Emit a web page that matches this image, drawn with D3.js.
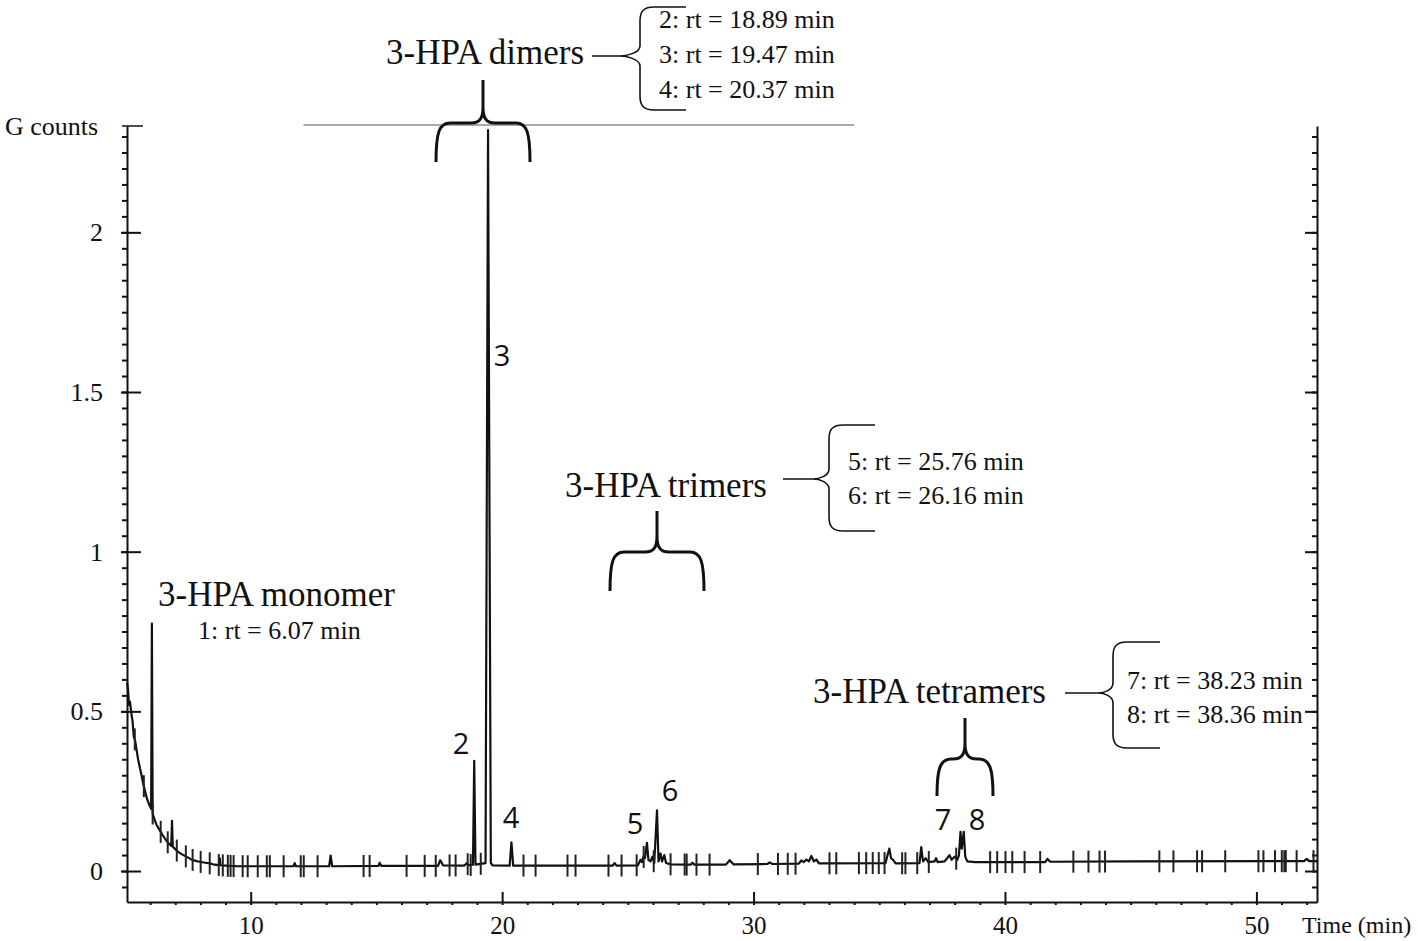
<!DOCTYPE html>
<html>
<head>
<meta charset="utf-8">
<title>3-HPA chromatogram</title>
<script src="https://cdn.jsdelivr.net/npm/d3@7"></script>
<style>
    body { margin: 0; background: #fff; }
    text { fill: #111; }
    .serif { font-family: "Liberation Serif", "Times New Roman", serif; }
    .sans { font-family: "Open Sans", "Noto Sans", sans-serif; }
    .axis path, .axis line { stroke: #111; stroke-width: 2; }
</style>
</head>
<body>
<svg id="chart" width="1418" height="941"></svg>
<script>
    // axis limits (min, G counts)
    var xMin = 5.08, xMax = 52.41;
    var yMin = -0.097, yMax = 2.333;
    var xTicks = [10, 20, 30, 40, 50];
    var yTicks = [0, 0.5, 1, 1.5, 2];

    // chromatogram trace: [retention time, signal]
    var trace = [
        [5.08, 0.59], [5.12, 0.57], [5.16, 0.52], [5.2, 0.53], [5.26, 0.49], [5.3, 0.47],
        [5.35, 0.42], [5.4, 0.41], [5.46, 0.38], [5.52, 0.35], [5.6, 0.32], [5.66, 0.30],
        [5.72, 0.275], [5.8, 0.25], [5.88, 0.225], [5.98, 0.205], [6.04, 0.195], [6.07, 0.775],
        [6.10, 0.18], [6.18, 0.16], [6.25, 0.145], [6.38, 0.128], [6.5, 0.112], [6.62, 0.098],
        [6.75, 0.085], [6.84, 0.079], [6.87, 0.157], [6.90, 0.076], [6.98, 0.07], [7.1, 0.061],
        [7.25, 0.053], [7.44, 0.045], [7.6, 0.038], [7.71, 0.034], [7.85, 0.031], [7.97, 0.029],
        [8.2, 0.026], [8.37, 0.024], [8.5, 0.021], [8.64, 0.019], [8.74, 0.019], [8.77, 0.04],
        [8.80, 0.018], [9.0, 0.017], [9.17, 0.016], [9.5, 0.015], [11.7, 0.015], [11.75, 0.025],
        [11.8, 0.015], [13.12, 0.015], [13.18, 0.048], [13.24, 0.015], [15.08, 0.016], [15.13, 0.026],
        [15.2, 0.016], [17.45, 0.016], [17.54, 0.034], [17.65, 0.018], [18.5, 0.017], [18.6, 0.025],
        [18.66, 0.018], [18.84, 0.02], [18.89, 0.345], [18.94, 0.02], [19.34, 0.025], [19.44, 2.32],
        [19.55, 0.025], [19.62, 0.018], [20.3, 0.017], [20.37, 0.09], [20.44, 0.017], [24.4, 0.017],
        [24.47, 0.025], [24.55, 0.017], [25.4, 0.018], [25.5, 0.035], [25.56, 0.028], [25.62, 0.045],
        [25.68, 0.04], [25.76, 0.088], [25.82, 0.035], [25.9, 0.03], [25.98, 0.045], [26.05, 0.025],
        [26.16, 0.19], [26.22, 0.03], [26.3, 0.055], [26.36, 0.03], [26.45, 0.05], [26.52, 0.025],
        [26.7, 0.021], [27.5, 0.02], [27.57, 0.026], [27.65, 0.02], [28.9, 0.02], [29.05, 0.034],
        [29.2, 0.021], [30.55, 0.022], [30.64, 0.027], [30.75, 0.022], [31.8, 0.023], [31.9, 0.033],
        [32.0, 0.028], [32.1, 0.036], [32.2, 0.03], [32.3, 0.047], [32.4, 0.03], [32.5, 0.036],
        [32.6, 0.024], [35.25, 0.025], [35.33, 0.05], [35.4, 0.07], [35.47, 0.04], [35.55, 0.035],
        [35.65, 0.024], [36.6, 0.025], [36.67, 0.075], [36.74, 0.03], [36.85, 0.04], [36.95, 0.028],
        [37.2, 0.03], [37.26, 0.04], [37.32, 0.028], [37.6, 0.03], [37.7, 0.04], [37.79, 0.05],
        [37.88, 0.035], [37.99, 0.045], [38.1, 0.035], [38.17, 0.05], [38.23, 0.123], [38.28, 0.07],
        [38.36, 0.123], [38.42, 0.045], [38.5, 0.03], [38.8, 0.028], [41.6, 0.028], [41.69, 0.038],
        [41.8, 0.029], [45, 0.03], [51.9, 0.031], [52.0, 0.038], [52.1, 0.031], [52.41, 0.031]
    ];

    // integration event marks (min)
    var events = [
        5.39, 5.75, 6.10, 6.42, 6.70, 7.06, 7.42, 7.69, 8.01, 8.37, 8.73, 8.89, 9.09, 9.20, 9.32,
        9.68, 9.88, 10.28, 10.64, 10.76, 11.31, 11.99, 12.11, 12.66, 14.49, 14.73, 16.20, 16.92,
        17.36, 17.91, 18.15, 18.63, 18.75, 19.15, 20.85, 21.33, 22.60, 22.92, 24.23, 24.75, 25.35,
        25.63, 26.03, 26.70, 27.26, 27.34, 27.73, 28.25, 30.17, 30.97, 31.36, 31.67, 33.02, 33.29,
        34.19, 34.48, 34.74, 34.98, 35.21, 35.91, 36.04, 36.51, 36.97, 38.06, 39.41, 39.69, 40.02,
        40.29, 40.78, 41.40, 42.72, 43.32, 43.76, 43.98, 46.14, 46.70, 47.64, 47.84, 48.76, 50.08,
        50.28, 50.74, 51.01, 51.11, 51.17, 51.60, 52.27
    ];

    // peak numbers and retention times
    var peakIds = ['1', '2', '3', '4', '5', '6', '7', '8'];
    var peakRt = [6.07, 18.89, 19.47, 20.37, 25.76, 26.16, 38.23, 38.36];

    var svg = d3.select('#chart');

    var x = d3.scaleLinear().domain([xMin, xMax]).range([127, 1317]);
    var y = d3.scaleLinear().domain([yMin, yMax]).range([902, 126]);

    // ---- axes ----
    // bottom: minor every minute, major every 10
    svg.append('g').attr('class', 'axis').attr('transform', 'translate(0,902)')
        .call(d3.axisBottom(x).tickValues(d3.range(6, 53)).tickSize(3).tickSizeOuter(0).tickFormat(''));
    svg.append('g').attr('class', 'axis').attr('transform', 'translate(0,902)')
        .call(d3.axisTop(x).tickValues(xTicks).tickSize(10).tickFormat(''))
        .call(function (g) { g.select('.domain').remove(); });
    svg.append('g').attr('transform', 'translate(0,902)')
        .call(d3.axisBottom(x).tickValues(xTicks).tickSize(0).tickPadding(14).tickFormat(d3.format('d')))
        .call(function (g) {
            g.select('.domain').remove();
            g.selectAll('text').attr('class', 'serif').style('font-size', '25px').attr('fill', '#111');
        });

    var minorY = d3.range(-0.05, 2.34, 0.05);

    // left axis
    svg.append('g').attr('class', 'axis').attr('transform', 'translate(' + x(xMin) + ',0)')
        .call(d3.axisLeft(y).tickValues(minorY).tickSize(5).tickSizeOuter(0).tickFormat(''));
    svg.append('g').attr('class', 'axis').attr('transform', 'translate(' + x(xMin) + ',0)')
        .call(d3.axisRight(y).tickValues(yTicks).tickSize(14).tickFormat(''))
        .call(function (g) { g.select('.domain').remove(); });
    svg.append('g').attr('class', 'axis').attr('transform', 'translate(' + x(xMin) + ',0)')
        .call(d3.axisLeft(y).tickValues(yTicks).tickSize(6).tickFormat(''))
        .call(function (g) { g.select('.domain').remove(); });
    svg.append('g').attr('transform', 'translate(' + x(xMin) + ',0)')
        .call(d3.axisLeft(y).tickValues(yTicks).tickSize(0).tickPadding(24).tickFormat(d3.format('')))
        .call(function (g) {
            g.select('.domain').remove();
            g.selectAll('text').attr('class', 'serif').style('font-size', '26px').attr('fill', '#111');
        });
    // short cap at the top of the left axis
    svg.append('line')
        .attr('x1', x(xMin) - 5).attr('x2', x(xMin) + 16)
        .attr('y1', y(yMax)).attr('y2', y(yMax))
        .attr('stroke', '#111').attr('stroke-width', 1.5);

    // right axis
    svg.append('g').attr('class', 'axis').attr('transform', 'translate(' + x(xMax) + ',0)')
        .call(d3.axisLeft(y).tickValues(minorY).tickSize(5).tickSizeOuter(0).tickFormat(''));
    svg.append('g').attr('class', 'axis').attr('transform', 'translate(' + x(xMax) + ',0)')
        .call(d3.axisLeft(y).tickValues(yTicks).tickSize(12).tickFormat(''))
        .call(function (g) { g.select('.domain').remove(); });

    // faint top frame line of the scan
    svg.append('line')
        .attr('x1', x(12.1)).attr('x2', x(34.0))
        .attr('y1', y(yMax) - 1).attr('y2', y(yMax) - 1)
        .attr('stroke', '#555').attr('stroke-width', 1.2);

    svg.append('text').attr('class', 'serif')
        .attr('x', 5).attr('y', 135)
        .style('font-size', '26px')
        .text('G counts');

    svg.append('text').attr('class', 'serif')
        .attr('x', 1302).attr('y', 933)
        .style('font-size', '24px')
        .text('Time (min)');

    // ---- trace ----
    var line = d3.line()
        .x(function (d) { return x(d[0]); })
        .y(function (d) { return y(d[1]); });

    svg.append('path')
        .datum(trace)
        .attr('d', line)
        .attr('fill', 'none')
        .attr('stroke', '#111')
        .attr('stroke-width', 2.2)
        .attr('stroke-linejoin', 'round');

    // event marks sit on the trace
    var bisect = d3.bisector(function (d) { return d[0]; }).left;
    function traceAt(t) {
        var i = bisect(trace, t);
        if (i <= 0) return trace[0][1];
        if (i >= trace.length) return trace[trace.length - 1][1];
        var a = trace[i - 1], b = trace[i];
        return a[1] + (b[1] - a[1]) * (t - a[0]) / (b[0] - a[0]);
    }

    svg.append('g').selectAll('line')
        .data(events)
        .enter().append('line')
        .attr('x1', function (d) { return x(d); })
        .attr('x2', function (d) { return x(d); })
        .attr('y1', function (d) { return y(traceAt(d)) - 11; })
        .attr('y2', function (d) { return y(traceAt(d)) + 11; })
        .attr('stroke', '#222')
        .attr('stroke-width', 2);

    // ---- peak numbers ----
    var peakLabelPos = {
        '2': [461, 754], '3': [502, 366], '4': [511, 828], '5': [635, 834],
        '6': [670, 801], '7': [943, 830], '8': [977, 830]
    };
    svg.append('g').selectAll('text')
        .data(peakIds.filter(function (d) { return peakLabelPos[d]; }))
        .enter().append('text')
        .attr('class', 'sans')
        .attr('x', function (d) { return peakLabelPos[d][0]; })
        .attr('y', function (d) { return peakLabelPos[d][1]; })
        .attr('text-anchor', 'middle')
        .style('font-size', '29px')
        .text(function (d) { return d; });

    // ---- annotations ----
    function rtLabel(i) {
        return peakIds[i] + ': rt = ' + d3.format('.2f')(peakRt[i]) + ' min';
    }

    // brace opening downwards over a group of peaks
    function hBrace(x0, x1, yTop, yEnd, tipY) {
        var cx = (x0 + x1) / 2;
        return 'M' + x0 + ',' + yEnd +
            'C' + x0 + ',' + (yTop + 10) + ' ' + (x0 + 3) + ',' + yTop + ' ' + (x0 + 14) + ',' + yTop +
            'L' + (cx - 12) + ',' + yTop +
            'C' + (cx - 3) + ',' + yTop + ' ' + cx + ',' + (yTop - 5) + ' ' + cx + ',' + (yTop - 16) +
            'L' + cx + ',' + tipY +
            'M' + cx + ',' + (yTop - 16) +
            'C' + cx + ',' + (yTop - 5) + ' ' + (cx + 3) + ',' + yTop + ' ' + (cx + 12) + ',' + yTop +
            'L' + (x1 - 14) + ',' + yTop +
            'C' + (x1 - 3) + ',' + yTop + ' ' + x1 + ',' + (yTop + 10) + ' ' + x1 + ',' + yEnd;
    }

    // "{" brace with a leader line from the group name
    function vBrace(xLine, xTip, xBar, xEnd, y0, yMid, y1) {
        return 'M' + xLine + ',' + yMid + 'L' + xTip + ',' + yMid +
            'M' + xEnd + ',' + y0 +
            'L' + (xBar + 14) + ',' + y0 +
            'C' + (xBar + 4) + ',' + y0 + ' ' + xBar + ',' + (y0 + 4) + ' ' + xBar + ',' + (y0 + 14) +
            'L' + xBar + ',' + (yMid - 10) +
            'C' + xBar + ',' + (yMid - 3) + ' ' + (xTip + 6) + ',' + yMid + ' ' + xTip + ',' + yMid +
            'C' + (xTip + 6) + ',' + yMid + ' ' + xBar + ',' + (yMid + 3) + ' ' + xBar + ',' + (yMid + 10) +
            'L' + xBar + ',' + (y1 - 14) +
            'C' + xBar + ',' + (y1 - 4) + ' ' + (xBar + 4) + ',' + y1 + ' ' + (xBar + 14) + ',' + y1 +
            'L' + xEnd + ',' + y1;
    }

    var ann = svg.append('g');
    var bigFont = '35px', rtFont = '26px';

    // monomer
    ann.append('text').attr('class', 'serif').attr('x', 158).attr('y', 606)
        .style('font-size', bigFont).text('3-HPA monomer');
    ann.append('text').attr('class', 'serif').attr('x', 198).attr('y', 639)
        .style('font-size', rtFont).text(rtLabel(0));

    // dimers
    ann.append('text').attr('class', 'serif').attr('x', 386).attr('y', 64)
        .style('font-size', bigFont).text('3-HPA dimers');
    ann.append('path').attr('d', vBrace(592, 620, 640, 686, 7, 56, 110))
        .attr('fill', 'none').attr('stroke', '#111').attr('stroke-width', 1.6);
    [1, 2, 3].forEach(function (p, k) {
        ann.append('text').attr('class', 'serif').attr('x', 659).attr('y', 28 + k * 35)
            .style('font-size', rtFont).text(rtLabel(p));
    });
    ann.append('path').attr('d', hBrace(436, 530, 123, 162, 80))
        .attr('fill', 'none').attr('stroke', '#111').attr('stroke-width', 3);

    // trimers
    ann.append('text').attr('class', 'serif').attr('x', 565).attr('y', 497)
        .style('font-size', bigFont).text('3-HPA trimers');
    ann.append('path').attr('d', vBrace(783, 813, 829, 875, 425, 479, 531))
        .attr('fill', 'none').attr('stroke', '#111').attr('stroke-width', 1.6);
    [4, 5].forEach(function (p, k) {
        ann.append('text').attr('class', 'serif').attr('x', 848).attr('y', 470 + k * 34)
            .style('font-size', rtFont).text(rtLabel(p));
    });
    ann.append('path').attr('d', hBrace(610, 704, 552, 591, 511))
        .attr('fill', 'none').attr('stroke', '#111').attr('stroke-width', 3);

    // tetramers
    ann.append('text').attr('class', 'serif').attr('x', 813).attr('y', 703)
        .style('font-size', bigFont).text('3-HPA tetramers');
    ann.append('path').attr('d', vBrace(1065, 1098, 1113, 1160, 642, 693, 748))
        .attr('fill', 'none').attr('stroke', '#111').attr('stroke-width', 1.6);
    [6, 7].forEach(function (p, k) {
        ann.append('text').attr('class', 'serif').attr('x', 1127).attr('y', 689 + k * 34)
            .style('font-size', rtFont).text(rtLabel(p));
    });
    ann.append('path').attr('d', hBrace(937, 993, 759, 796, 718))
        .attr('fill', 'none').attr('stroke', '#111').attr('stroke-width', 3);
</script>
</body>
</html>
